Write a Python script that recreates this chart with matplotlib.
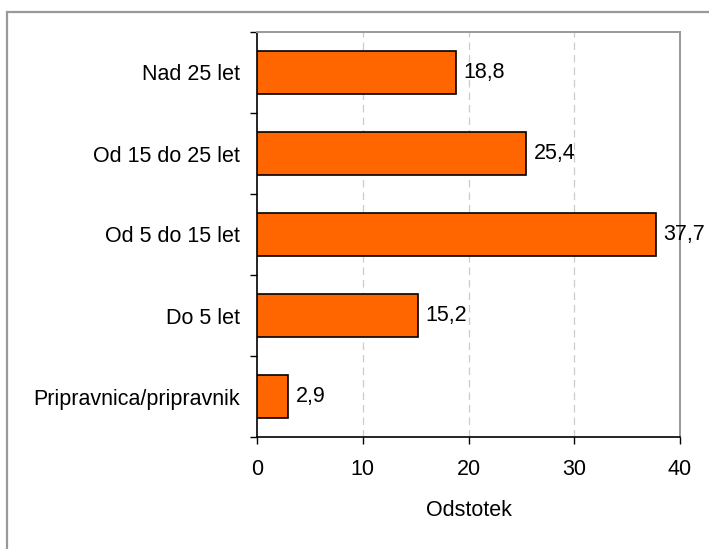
import matplotlib
matplotlib.use("Agg")
import matplotlib.pyplot as plt
from matplotlib.patches import Rectangle

categories = ["Pripravnica/pripravnik", "Do 5 let", "Od 5 do 15 let", "Od 15 do 25 let", "Nad 25 let"]
values = [2.9, 15.2, 37.7, 25.4, 18.8]
labels = ["2,9", "15,2", "37,7", "25,4", "18,8"]
xticks = [0, 10, 20, 30, 40]

plt.rcParams['font.family'] = ['Liberation Sans', 'DejaVu Sans']
FS = 15.5
plt.rcParams['font.size'] = FS

W, H = 709, 549
fig = plt.figure(figsize=(W/100, H/100), dpi=100)
ax = fig.add_axes([257/W, 1-437/H, (680-257)/W, (437-32)/H])

# figure border
fig.patches.append(Rectangle((7/W, -0.1), 1.2, 1-12/H+0.1, transform=fig.transFigure,
                             fill=False, edgecolor='#999999', linewidth=1.6, zorder=0))

y = list(range(len(categories)))
ax.barh(y, values, height=0.52, color='#FF6600', edgecolor='black', linewidth=1.2, zorder=3)
for yi, v, lab in zip(y, values, labels):
    ax.text(v + 0.75, yi, lab, va='center', ha='left', fontsize=FS, zorder=4)

ax.set_xlim(0, 40)
ax.set_ylim(-0.5, len(categories) - 0.5)
ax.set_xticks(xticks)
ax.set_xticklabels([str(t) for t in xticks])
ax.set_yticks(y)
ax.set_yticklabels(categories)
ax.set_yticks([i - 0.5 for i in range(len(categories) + 1)], minor=True)
ax.tick_params(axis='y', which='major', length=0, pad=12)
ax.tick_params(axis='y', which='minor', length=5, width=1, direction='out', color='black')
ax.tick_params(axis='x', which='major', length=5, width=1, direction='out', pad=11)

for gx in [10, 20, 30]:
    ax.axvline(gx, color='#CCCCCC', linestyle=(0, (6, 4)), linewidth=0.9, zorder=1)

ax.spines['left'].set_color('black')
ax.spines['bottom'].set_color('black')
ax.spines['left'].set_linewidth(1.2)
ax.spines['bottom'].set_linewidth(1.2)
ax.spines['top'].set_color('#999999')
ax.spines['right'].set_color('#999999')
ax.spines['top'].set_linewidth(1.4)
ax.spines['right'].set_linewidth(1.4)

ax.set_xlabel("Odstotek", fontsize=FS, labelpad=14)

fig.savefig("out.png", dpi=100)
